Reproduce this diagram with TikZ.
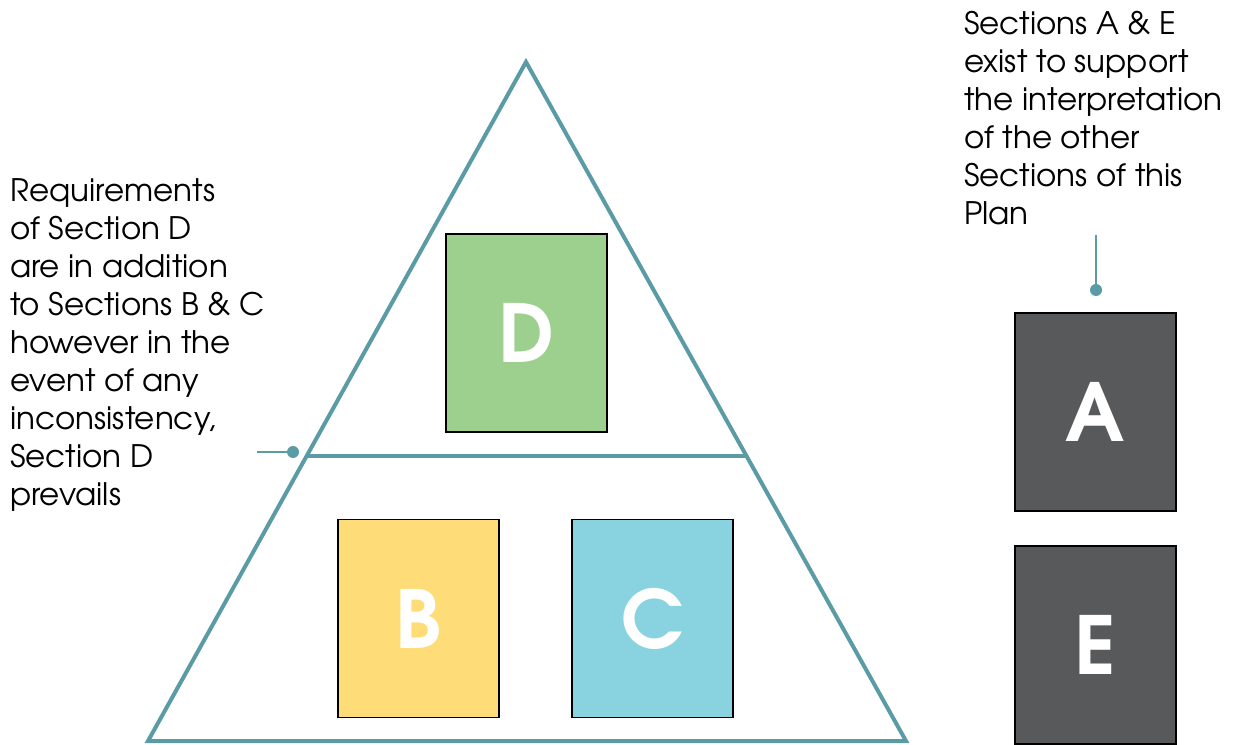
\documentclass[tikz,border=0pt]{standalone}
\usepackage{fontspec}
\setmainfont{TeX Gyre Adventor}
\usetikzlibrary{calc}
\definecolor{teal1}{HTML}{5A9BA6}
\definecolor{dgreen}{HTML}{9DD08E}
\definecolor{dyellow}{HTML}{FEDD78}
\definecolor{dblue}{HTML}{89D3E0}
\definecolor{dgray}{HTML}{58595B}
\tikzset{
  secbox/.style={draw=black, line width=1.5pt, minimum width=161pt, minimum height=198pt, inner sep=0pt,
    text=white, font=\fontsize{80}{80}\selectfont\bfseries},
  tri/.style={draw=teal1, line width=4pt, line join=miter},
  dotnode/.style={circle, fill=teal1, minimum size=12pt, inner sep=0pt},
  conn/.style={draw=teal1, line width=2pt},
  note/.style={align=left, inner sep=0pt, anchor=north west, text=black, font=\fontsize{31}{38}\selectfont}
}
\begin{document}
\begin{tikzpicture}[x=1pt,y=1pt]
\useasboundingbox (0,0) rectangle (1236,744);
\coordinate (apex) at (526,682);
\coordinate (bl) at (148,3);
\coordinate (br) at (906,3);
\coordinate (ml) at ($(apex)!0.5803!(bl)$);
\coordinate (mr) at ($(apex)!0.5803!(br)$);
\draw[tri] (apex) -- (bl) -- (br) -- cycle;
\draw[tri] (ml) -- (mr);
\node[secbox, fill=dgreen] (D) at (526.5,411) {D};
\node[secbox, fill=dyellow] (B) at (418.5,125.5) {B};
\node[secbox, fill=dblue] (C) at (652.5,125.5) {C};
\node[secbox, fill=dgray] (A) at (1095.5,332) {A};
\node[secbox, fill=dgray] (E) at (1095.5,99) {E};
\node[dotnode] (dl) at (293,292) {};
\coordinate (dls) at (257,292);
\draw[conn] (dls) -- (dl.center);
\node[dotnode] (dr) at (1096,454) {};
\coordinate (drs) at (1096,509);
\draw[conn] (drs) -- (dr.center);
\node[note] (tl) at (10,566) {Requirements\\of Section D\\are in addition\\to Sections B \& C\\however in the\\event of any\\inconsistency,\\Section D\\prevails};
\node[note] (tr) at (964,733) {Sections A \& E\\exist to support\\the interpretation\\of the other\\Sections of this\\Plan};
\end{tikzpicture}
\end{document}
